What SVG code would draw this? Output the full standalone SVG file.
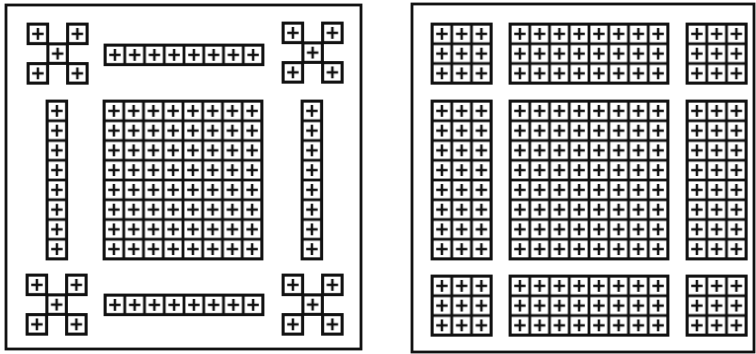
<svg xmlns="http://www.w3.org/2000/svg" xmlns:xlink="http://www.w3.org/1999/xlink" width="756" height="354" viewBox="0 0 756 354">
<style>
.o{fill:none;stroke:#111;stroke-width:2.8}
.f{fill:none;stroke:#111;stroke-width:2.8}
.c{fill:url(#cell)}
</style>
<defs>
<pattern id="cell" patternUnits="userSpaceOnUse" width="19.75" height="19.75">
<rect x="0" y="0" width="19.75" height="19.75" fill="#fff" stroke="#111" stroke-width="2.8"/>
<path d="M4.2 9.9H15.6M9.9 4V15.8" stroke="#111" stroke-width="2.5" fill="none"/>
</pattern>
</defs>
<rect width="756" height="354" fill="#fff"/>
<g id="frames">
<rect class="f" x="6" y="5" width="355" height="344"/>
<rect class="f" x="412" y="4" width="342" height="348"/>
</g>
<g id="left-panel">
<g id="l-tl" transform="translate(28,24)">
<rect class="c" x="0" y="0" width="19.75" height="19.75"/><rect class="o" x="0" y="0" width="19.75" height="19.75"/>
<rect class="c" x="39.5" y="0" width="19.75" height="19.75"/><rect class="o" x="39.5" y="0" width="19.75" height="19.75"/>
<rect class="c" x="19.75" y="19.75" width="19.75" height="19.75"/><rect class="o" x="19.75" y="19.75" width="19.75" height="19.75"/>
<rect class="c" x="0" y="39.5" width="19.75" height="19.75"/><rect class="o" x="0" y="39.5" width="19.75" height="19.75"/>
<rect class="c" x="39.5" y="39.5" width="19.75" height="19.75"/><rect class="o" x="39.5" y="39.5" width="19.75" height="19.75"/>
</g>
<g id="l-tr" transform="translate(283,23)">
<rect class="c" x="0" y="0" width="19.75" height="19.75"/><rect class="o" x="0" y="0" width="19.75" height="19.75"/>
<rect class="c" x="39.5" y="0" width="19.75" height="19.75"/><rect class="o" x="39.5" y="0" width="19.75" height="19.75"/>
<rect class="c" x="19.75" y="19.75" width="19.75" height="19.75"/><rect class="o" x="19.75" y="19.75" width="19.75" height="19.75"/>
<rect class="c" x="0" y="39.5" width="19.75" height="19.75"/><rect class="o" x="0" y="39.5" width="19.75" height="19.75"/>
<rect class="c" x="39.5" y="39.5" width="19.75" height="19.75"/><rect class="o" x="39.5" y="39.5" width="19.75" height="19.75"/>
</g>
<g id="l-bl" transform="translate(27,275)">
<rect class="c" x="0" y="0" width="19.75" height="19.75"/><rect class="o" x="0" y="0" width="19.75" height="19.75"/>
<rect class="c" x="39.5" y="0" width="19.75" height="19.75"/><rect class="o" x="39.5" y="0" width="19.75" height="19.75"/>
<rect class="c" x="19.75" y="19.75" width="19.75" height="19.75"/><rect class="o" x="19.75" y="19.75" width="19.75" height="19.75"/>
<rect class="c" x="0" y="39.5" width="19.75" height="19.75"/><rect class="o" x="0" y="39.5" width="19.75" height="19.75"/>
<rect class="c" x="39.5" y="39.5" width="19.75" height="19.75"/><rect class="o" x="39.5" y="39.5" width="19.75" height="19.75"/>
</g>
<g id="l-br" transform="translate(283,275)">
<rect class="c" x="0" y="0" width="19.75" height="19.75"/><rect class="o" x="0" y="0" width="19.75" height="19.75"/>
<rect class="c" x="39.5" y="0" width="19.75" height="19.75"/><rect class="o" x="39.5" y="0" width="19.75" height="19.75"/>
<rect class="c" x="19.75" y="19.75" width="19.75" height="19.75"/><rect class="o" x="19.75" y="19.75" width="19.75" height="19.75"/>
<rect class="c" x="0" y="39.5" width="19.75" height="19.75"/><rect class="o" x="0" y="39.5" width="19.75" height="19.75"/>
<rect class="c" x="39.5" y="39.5" width="19.75" height="19.75"/><rect class="o" x="39.5" y="39.5" width="19.75" height="19.75"/>
</g>
<g id="l-top-strip" transform="translate(105,45)"><rect class="c" width="158" height="19.75"/><rect class="o" width="158" height="19.75"/></g>
<g id="l-bottom-strip" transform="translate(105,295)"><rect class="c" width="158" height="19.75"/><rect class="o" width="158" height="19.75"/></g>
<g id="l-left-strip" transform="translate(47,101)"><rect class="c" width="19.75" height="158"/><rect class="o" width="19.75" height="158"/></g>
<g id="l-right-strip" transform="translate(302,101)"><rect class="c" width="19.75" height="158"/><rect class="o" width="19.75" height="158"/></g>
<g id="l-center" transform="translate(104,101)"><rect class="c" width="158" height="158"/><rect class="o" width="158" height="158"/></g>
</g>
<g id="right-panel">
<g id="r-tl" transform="translate(432,24)"><rect class="c" width="59.25" height="59.25"/><rect class="o" width="59.25" height="59.25"/></g>
<g id="r-tm" transform="translate(510,24)"><rect class="c" width="158" height="59.25"/><rect class="o" width="158" height="59.25"/></g>
<g id="r-tr" transform="translate(687,24)"><rect class="c" width="59.25" height="59.25"/><rect class="o" width="59.25" height="59.25"/></g>
<g id="r-ml" transform="translate(432,101)"><rect class="c" width="59.25" height="158"/><rect class="o" width="59.25" height="158"/></g>
<g id="r-mm" transform="translate(510,101)"><rect class="c" width="158" height="158"/><rect class="o" width="158" height="158"/></g>
<g id="r-mr" transform="translate(687,101)"><rect class="c" width="59.25" height="158"/><rect class="o" width="59.25" height="158"/></g>
<g id="r-bl" transform="translate(432,276)"><rect class="c" width="59.25" height="59.25"/><rect class="o" width="59.25" height="59.25"/></g>
<g id="r-bm" transform="translate(510,276)"><rect class="c" width="158" height="59.25"/><rect class="o" width="158" height="59.25"/></g>
<g id="r-br" transform="translate(687,276)"><rect class="c" width="59.25" height="59.25"/><rect class="o" width="59.25" height="59.25"/></g>
</g>
</svg>
